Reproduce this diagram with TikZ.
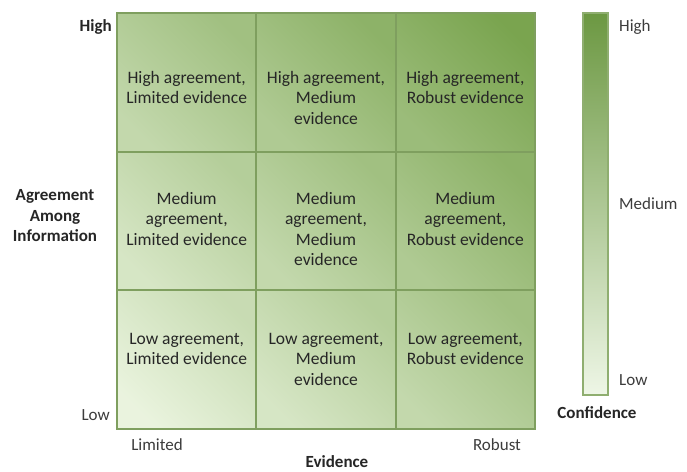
\documentclass[tikz,border=0pt]{standalone}
\usepackage{fontspec}
\setmainfont{Carlito}
\definecolor{glight}{HTML}{F0F8E6}
\definecolor{gdark}{HTML}{6E9C40}
\definecolor{gline}{HTML}{7F9F5F}
\definecolor{gbar}{HTML}{8FAE70}
\definecolor{bartop}{HTML}{6C9842}
\definecolor{barbot}{HTML}{EEF6E6}
\definecolor{txt}{HTML}{262626}
\definecolor{lbl}{HTML}{3C3C3C}
\begin{document}
\begin{tikzpicture}[x=1pt,y=1pt,
  celltext/.style={font=\fontsize{17.5}{20.5}\selectfont, text=txt, align=center, inner sep=0pt, anchor=north},
  axlbl/.style={font=\fontsize{17}{20.5}\selectfont, text=lbl, inner sep=0pt},
  axtitle/.style={font=\fontsize{17}{20.5}\selectfont\bfseries, text=txt, inner sep=0pt, align=center}]
\useasboundingbox[fill=white] (0,0) rectangle (687,471);
\foreach \i in {0,1,2}{\foreach \j in {0,1,2}{
  \pgfmathtruncatemacro{\s}{5+15*(\i+\j)}
  \pgfmathtruncatemacro{\e}{\s+26}
  \node[draw=gline, line width=2pt, minimum width=139.33pt, minimum height=138.67pt, inner sep=0pt,
        bottom color=gdark!\s!glight, top color=gdark!\e!glight, shading angle=-45]
        (c\i\j) at ({186.67+139.33*\i},{111.33+138.67*\j}) {};
}}
% cell texts
\node[celltext] (t02) at (186.67,400) {High agreement,\\Limited evidence};
\node[celltext] (t12) at (326,400) {High agreement,\\Medium\\evidence};
\node[celltext] (t22) at (465.33,400) {High agreement,\\Robust evidence};
\node[celltext] (t01) at (186.67,279) {Medium\\agreement,\\Limited evidence};
\node[celltext] (t11) at (326,279) {Medium\\agreement,\\Medium\\evidence};
\node[celltext] (t21) at (465.33,279) {Medium\\agreement,\\Robust evidence};
\node[celltext] (t00) at (186.67,138) {Low agreement,\\Limited evidence};
\node[celltext] (t10) at (326,138) {Low agreement,\\Medium\\evidence};
\node[celltext] (t20) at (465.33,138) {Low agreement,\\Robust evidence};
% axis labels
\node[axtitle, anchor=east] (yhigh) at (112,444) {High};
\node[axlbl, anchor=east] (ylow) at (110,56) {Low};
\node[axtitle] (ytitle) at (55,255) {Agreement\\Among\\Information};
\node[axlbl] (xlim) at (157,26) {Limited};
\node[axlbl] (xrob) at (497,26) {Robust};
\node[axtitle] (xtitle) at (337,9) {Evidence};
% confidence bar
\node[draw=gbar, line width=1.2pt, minimum width=25pt, minimum height=382pt, inner sep=0pt,
      bottom color=barbot, top color=bartop] (bar) at (595.5,267) {};
\node[axlbl, anchor=west] (chigh) at (619,444) {High};
\node[axlbl, anchor=west] (cmed) at (619,267) {Medium};
\node[axlbl, anchor=west] (clow) at (619,91) {Low};
\node[axtitle] (ctitle) at (597,58) {Confidence};
\end{tikzpicture}
\end{document}
